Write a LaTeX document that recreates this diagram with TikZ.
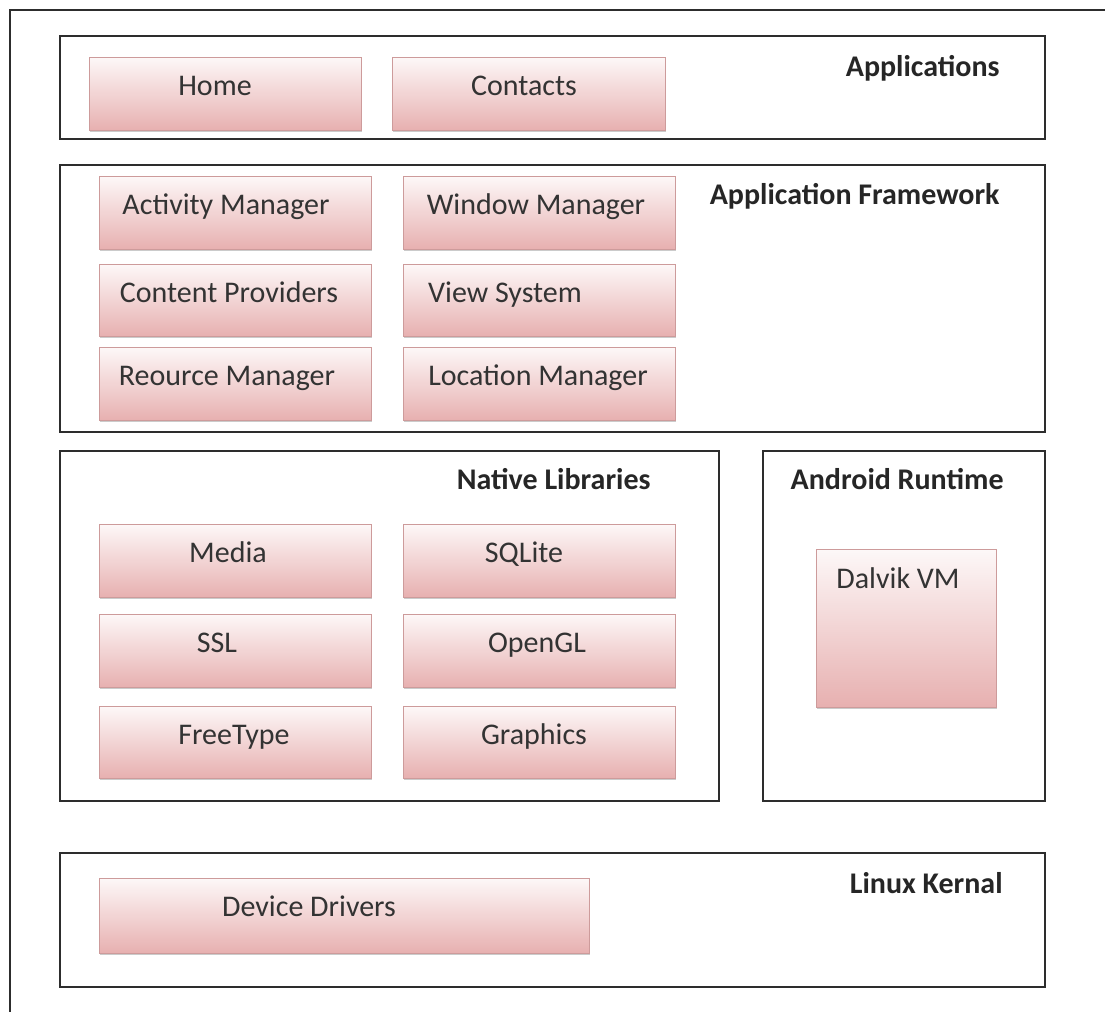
\documentclass[tikz,border=0pt]{standalone}
\usepackage{fontspec}
\setmainfont{Carlito}
\usepackage{xcolor}
\usepackage{tikz}
\usetikzlibrary{positioning,shadows}
\definecolor{BoxTop}{RGB}{253,248,248}
\definecolor{BoxPink}{RGB}{231,176,176}
\definecolor{BoxEdge}{RGB}{205,155,155}
\definecolor{FrameGrey}{RGB}{45,45,45}

\begin{document}
\begin{tikzpicture}[x=0.5pt,y=-0.5pt]
        % Style cho cac khung lop
        \tikzstyle{layer} = [
            draw=FrameGrey,
            line width=1pt,
            anchor=north west,
            inner sep=0pt,
            outer sep=0pt
        ]
        % Style cho cac o hong
        \tikzstyle{block} = [
            draw=BoxEdge,
            line width=0.4pt,
            top color=BoxTop,
            bottom color=BoxPink,
            anchor=north west,
            inner sep=0pt,
            outer sep=0pt,
            drop shadow={shadow xshift=0.3pt, shadow yshift=-1.2pt, fill=black!45, opacity=0.45}
        ]
        \tikzstyle{title} = [font=\fontsize{15}{18}\selectfont\bfseries, text=black!85, anchor=base east, inner sep=0pt]
        \tikzstyle{boxtext} = [font=\fontsize{15}{18}\selectfont, text=black!80, anchor=base, inner sep=0pt]

        \useasboundingbox (0,0) rectangle (1105,1012);

        % Khung ngoai
        \draw[FrameGrey, line width=1pt] (10,1012) -- (10,10) -- (1105,10);

        % Cac lop
        \foreach \nm/\x/\y/\w/\h/\tx/\ty/\txt in {
            apps/60/36/985/103/1000/76/Applications,
            framework/60/165/985/267/1000/204/Application Framework,
            native/60/451/659/350/651/489/Native Libraries,
            runtime/763/451/282/350/1004/489/Android Runtime,
            kernel/60/853/985/134/1003/893/Linux Kernal} {
            \node[layer, minimum width=\w*0.5pt, minimum height=\h*0.5pt] at (\x,\y) (\nm) {};
            \node[title] at (\tx,\ty) (\nm-title) {\txt};
        }

        % Cac o ben trong
        \foreach \nm/\x/\y/\w/\h/\tx/\txt in {
            home/89/57/272/73/215/Home,
            contacts/392/57/273/73/524/Contacts,
            actmgr/99/176/272/73/226/Activity Manager,
            winmgr/403/176/272/73/536/Window Manager,
            content/99/264/272/72/229/Content Providers,
            viewsys/403/264/272/72/505/View System,
            resmgr/99/347/272/73/227/Reource Manager,
            locmgr/403/347/272/73/538/Location Manager,
            media/99/524/272/73/228/Media,
            sqlite/403/524/272/73/524/SQLite,
            ssl/99/614/272/73/217/SSL,
            opengl/403/614/272/73/537/OpenGL,
            freetype/99/706/272/72/234/FreeType,
            graphics/403/706/272/72/534/Graphics,
            drivers/99/878/490/75/309/Device Drivers} {
            \node[block, minimum width=\w*0.5pt, minimum height=\h*0.5pt] at (\x,\y) (\nm) {};
            \node[boxtext] at (\tx,\y+38) (\nm-text) {\txt};
        }

        % Dalvik VM
        \node[block, minimum width=90pt, minimum height=79pt] at (816,549) (dalvik) {};
        \node[boxtext, anchor=base west] at (836,588) (dalvik-text) {Dalvik VM};
    \end{tikzpicture}
\end{document}
